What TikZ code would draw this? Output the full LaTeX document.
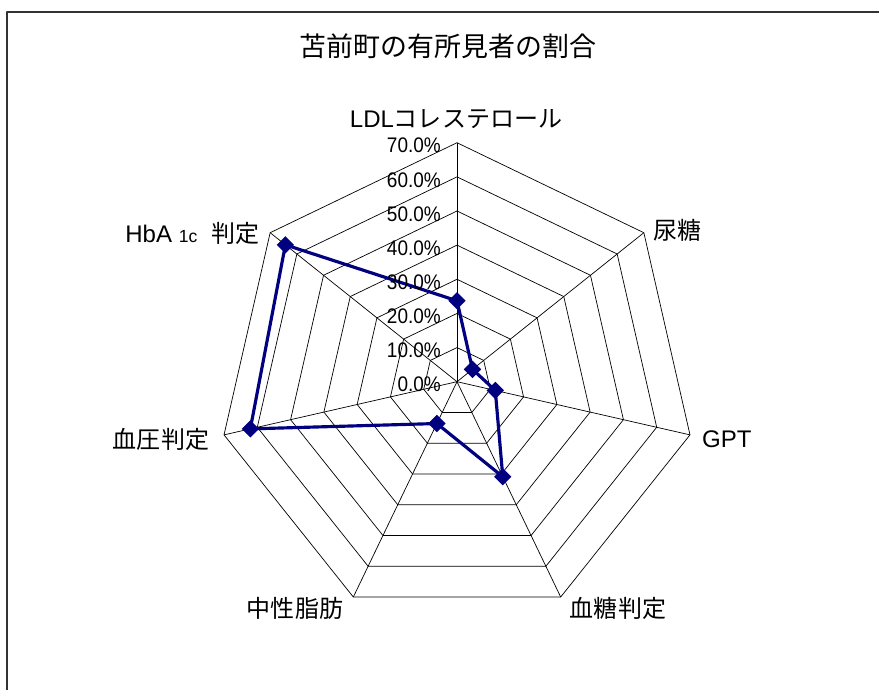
\documentclass[tikz,border=0pt]{standalone}
\usepackage{fontspec}
\usepackage{graphicx}
\setmainfont{Liberation Sans}
\newfontfamily\cjk{Noto Sans CJK JP}
\usetikzlibrary{shapes.geometric}
\definecolor{navyline}{RGB}{0,0,128}
\newcommand{\pctnarrow}[1]{\scalebox{0.9}[1]{#1}}
\tikzstyle{every picture}+=[x=0.03cm,y=0.03cm]
\tikzstyle{every picture}+=[line join=round]
\tikzstyle{grid line}=[line width=0.6pt,black]
\tikzstyle{frame line}=[line width=1.3pt,black!80]
\tikzstyle{title label}=[font=\fontsize{23}{27}\selectfont\cjk,inner sep=0pt]
\tikzstyle{axis label}=[font=\fontsize{20.5}{24}\selectfont,inner sep=0pt]
\tikzstyle{pct label}=[font=\fontsize{18}{21}\selectfont,anchor=east,inner sep=0pt]
\tikzstyle{data line}=[line width=2.7pt,navyline]
\tikzstyle{data mark}=[diamond,fill=navyline,inner sep=0pt,minimum size=15pt]
\begin{document}
\begin{tikzpicture}
\useasboundingbox (0,0) rectangle (879,689);
\fill[white] (0,0) rectangle (879,689);
\draw[frame line] (7,-20) -- (7,677) -- (900,677);

\node[title label] (title) at (448,642.5) {苫前町の有所見者の割合};

\begin{scope}[shift={(457,307.3)}]
\coordinate (c) at (0,0);
% rings
\foreach \r in {1,...,7} {
  \draw[grid line] (90:{\r*34.14}) \foreach \k in {1,...,6} { -- ({90-\k*360/7}:{\r*34.14}) } -- cycle;
}
% spokes
\foreach \k in {0,...,6} {
  \coordinate (v\k) at ({90-\k*360/7}:239);
  \draw[grid line] (c) -- (v\k);
}
% data
\foreach \k/\v in {0/23.7,1/5.8,2/11.5,3/30.9,4/13.6,5/62.1,6/64.3}
  \coordinate (p\k) at ({90-\k*360/7}:{\v*3.414});
\draw[data line] (p0) -- (p1) -- (p2) -- (p3) -- (p4) -- (p5) -- (p6) -- cycle;
\foreach \k in {0,...,6}
  \node[data mark] (m\k) at (p\k) {};
\end{scope}

\foreach \i/\t in {0/0.0,1/10.0,2/20.0,3/30.0,4/40.0,5/50.0,6/60.0,7/70.0}
  \node[pct label] (pct\i) at (441,{304.3+\i*34.14}) {\pctnarrow{\t\%}};

\node[axis label] (ldl) at (456,570) {LDL{\cjk コレステロール}};
\node[axis label,anchor=west] (nyoto) at (653,459) {\cjk 尿糖};
\node[axis label,anchor=west] (gpt) at (702,250) {GPT};
\node[axis label] (kettou) at (618,81) {\cjk 血糖判定};
\node[axis label] (chusei) at (295,81) {\cjk 中性脂肪};
\node[axis label] (ketsuatsu) at (161,250) {\cjk 血圧判定};
\node[axis label,anchor=east] (hba) at (260,456) {HbA {\fontsize{15}{17}\selectfont 1c}\hspace{0.6em}{\cjk 判定}};
\end{tikzpicture}
\end{document}
